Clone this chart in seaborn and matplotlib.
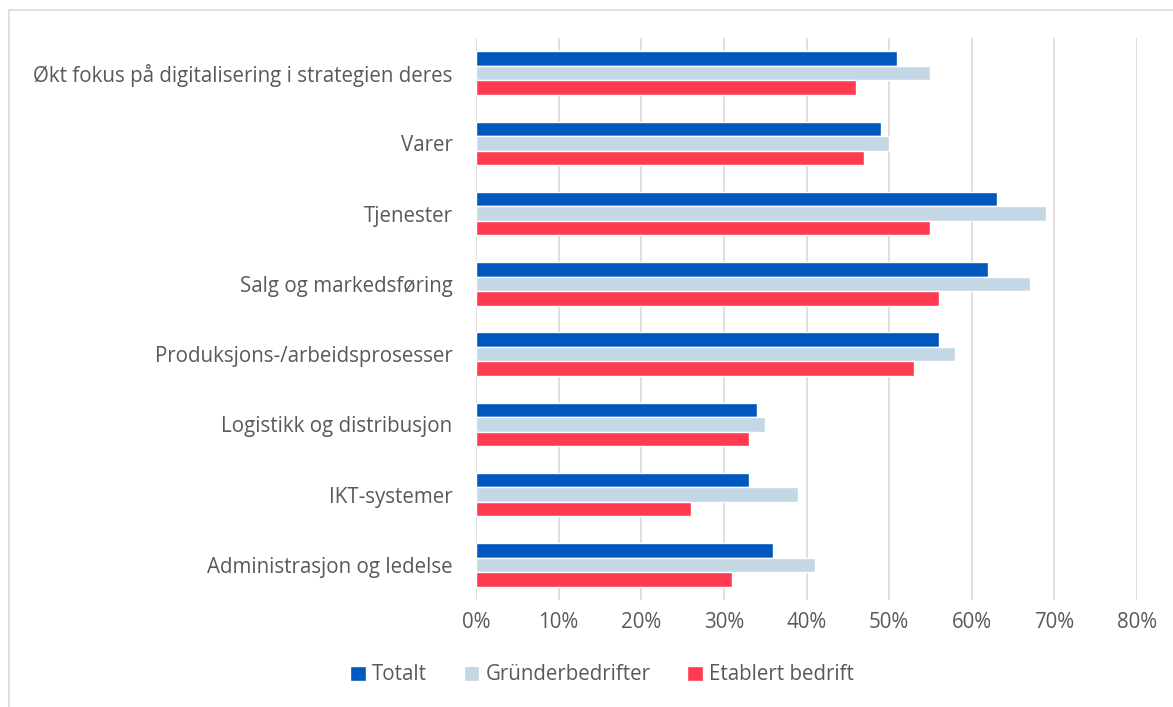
import matplotlib
matplotlib.use("Agg")
import matplotlib.pyplot as plt
import seaborn as sns
import pandas as pd
from matplotlib.patches import Rectangle, Patch
from matplotlib.ticker import PercentFormatter

categories = ["Økt fokus på digitalisering i strategien deres", "Varer", "Tjenester",
              "Salg og markedsføring", "Produksjons-/arbeidsprosesser",
              "Logistikk og distribusjon", "IKT-systemer", "Administrasjon og ledelse"]
series = ["Totalt", "Gründerbedrifter", "Etablert bedrift"]
totalt = [51, 49, 63, 62, 56, 34, 33, 36]
grunder = [55, 50, 69, 67, 58, 35, 39, 41]
etablert = [46, 47, 55, 56, 53, 33, 26, 31]
colors = ["#0057BD", "#C3D8E4", "#FF3B52"]

rows = []
for s, vals in zip(series, [totalt, grunder, etablert]):
    for c, v in zip(categories, vals):
        rows.append({"cat": c, "serie": s, "val": v})
df = pd.DataFrame(rows)

sns.set_theme(style="white")
plt.rcParams['font.family'] = ['Open Sans', 'DejaVu Sans']

fig = plt.figure(figsize=(11.73, 7.07), dpi=100)
ax = fig.add_axes([476/1173, 1-600/707, (1137-476)/1173, (600-38)/707])
sns.barplot(data=df, y="cat", x="val", hue="serie", order=categories, hue_order=series,
            palette=colors, orient="h", width=0.62, ax=ax, legend=False, errorbar=None,
            saturation=1)
ax.set_xlim(0, 80)
ax.set_ylim(7.5, -0.5)
ax.set_xticks(range(0, 81, 10))
ax.xaxis.set_major_formatter(PercentFormatter(decimals=0))
ax.grid(axis="x", color="#D9D9D9", linewidth=1.2)
ax.set_axisbelow(True)
for sp in ax.spines.values():
    sp.set_visible(False)
ax.set_xlabel("")
ax.set_ylabel("")
ax.tick_params(axis="both", length=0, labelsize=14.8, labelcolor="#595959")
ax.tick_params(axis="x", pad=9)
ax.tick_params(axis="y", pad=17)

handles = [Patch(facecolor=c, label=s) for c, s in zip(colors, series)]
fig.legend(handles=handles, loc="center", bbox_to_anchor=(602/1173, 1-675/707), ncol=3,
           frameon=False, fontsize=14.8, labelcolor="#595959", handlelength=0.75,
           handleheight=0.75, handletextpad=0.3, columnspacing=1.8)

fig.patches.append(Rectangle((9/1173, -0.05), 1.2, 1.05 - 10/707, transform=fig.transFigure,
                             fill=False, edgecolor="#D9D9D9", linewidth=1.2))
fig.savefig("out.png", dpi=100)
